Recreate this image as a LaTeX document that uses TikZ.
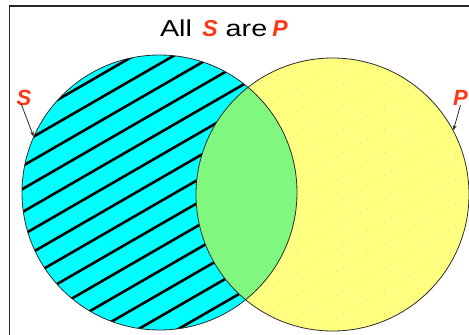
\documentclass[tikz,border=0pt]{standalone}
\usepackage{fontspec}
\setmainfont{Liberation Sans}
\usepackage{graphicx}
\usetikzlibrary{arrows.meta}
\definecolor{cyanfill}{RGB}{0,255,255}
\definecolor{yellowfill}{RGB}{255,255,128}
\definecolor{lensfill}{RGB}{128,248,128}
\definecolor{lblred}{RGB}{255,55,20}
\definecolor{edgec}{RGB}{45,45,45}
\definecolor{dotc}{RGB}{215,215,150}
\begin{document}
\begin{tikzpicture}[x=1pt,y=-1pt,
  setc/.style={circle,inner sep=0pt,minimum size=#1,draw=edgec,line width=0.8pt},
  hatchline/.style={line width=2.6pt,black},
  faintdots/.style={dotc,line width=0.7pt,dash pattern=on 0.8pt off 6pt},
  frameline/.style={line width=1.5pt,black!85},
  titletxt/.style={anchor=base,inner sep=0pt,font=\fontsize{23}{27}\selectfont},
  redlbl/.style={anchor=base,inner sep=1pt,text=lblred,font=\fontsize{22}{26}\selectfont\bfseries\itshape},
  arr/.style={edgec,line width=0.8pt,-{Stealth[length=5pt,width=4pt]}}]
\useasboundingbox (0,0) rectangle (469,335);
\fill[white] (0,0) rectangle (469,335);
% fills
\fill[cyanfill] (159.5,192.5) circle[radius=137.5pt];
\fill[yellowfill] (332.5,194.5) circle[radius=136.5pt];
% faint dotted lines in P
\begin{scope}
  \clip (332.5,194.5) circle[radius=136.5pt];
  \foreach \k in {-2,...,16}
    \draw[faintdots] (190,{156.0+11.5+\k*23-0.5774*190}) -- (470,{156.0+11.5+\k*23-0.5774*470});
\end{scope}
% hatching of S
\begin{scope}
  \clip (159.5,192.5) circle[radius=137.5pt];
  \foreach \k in {-3,...,16}
    \draw[hatchline] (0,{156.0+\k*23}) -- (330,{156.0-190.5+\k*23});
\end{scope}
% lens
\begin{scope}
  \clip (159.5,192.5) circle[radius=137.5pt];
  \fill[lensfill] (332.5,194.5) circle[radius=136.5pt];
\end{scope}
% outlines
\node[setc=275pt] (L) at (159.5,192.5) {};
\node[setc=273pt] (R) at (332.5,194.5) {};
% frame
\draw[frameline] (9.5,335) -- (9.5,6) -- (469,6);
% title
\node[titletxt] (t1) at (176,36.5) {\scalebox{1.25}[1]{All}};
\node[redlbl,inner sep=0pt,font=\fontsize{23}{27}\selectfont\bfseries\itshape] (t2) at (210,36.5) {S};
\node[titletxt] (t3) at (246.5,36.5) {\scalebox{1.25}[1]{are}};
\node[redlbl,inner sep=0pt,font=\fontsize{23}{27}\selectfont\bfseries\itshape] (t4) at (280,36.5) {P};
% labels
\node[redlbl] (ls) at (24,105) {S};
\node[redlbl] (lp) at (460.5,105) {P};
\draw[arr] ([xshift=-3pt,yshift=3pt]ls.south) -- (L.156.5);
\draw[arr] ([yshift=1pt]lp.south) -- (R.28.5);
\end{tikzpicture}
\end{document}
